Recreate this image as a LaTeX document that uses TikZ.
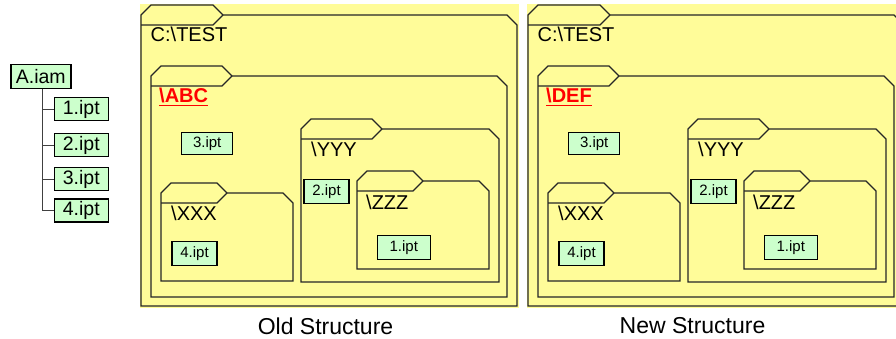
\documentclass[tikz,border=0pt]{standalone}
\usepackage{fontspec}
\setmainfont{Liberation Sans}
\definecolor{fyellow}{RGB}{255,252,153}
\definecolor{fgreen}{RGB}{204,255,204}
\newcommand{\fld}[5]{%
  \filldraw[foldline,fill=fyellow] (#1,#2+10) -- (#1+10,#2) -- (#3,#2) -- (#3+10,#2+10) -- (#4-10,#2+10) -- (#4,#2+20) -- (#4,#5) -- (#1,#5) -- cycle;
  \draw[foldline] (#1,#2+20) -- (#3,#2+20) -- (#3+10,#2+10);
}
\tikzset{
  foldline/.style={draw=black!85,line width=1.2pt,line join=miter},
  flabel/.style={anchor=base west,inner sep=0pt,font=\fontsize{20}{24}\selectfont},
  redlabel/.style={anchor=base west,inner sep=0pt,text=red,font=\fontsize{20}{24}\selectfont\bfseries},
  smallbox/.style={draw=black,line width=1.4pt,fill=fgreen,inner sep=0pt,minimum width=48pt,minimum height=24pt,font=\fontsize{15}{18}\selectfont},
  treebox/.style={draw=black,line width=1.4pt,fill=fgreen,inner sep=0pt,minimum width=54pt,minimum height=23pt,font=\fontsize{19.5}{22}\selectfont},
  treeline/.style={draw=black!75,line width=1pt},
  caption/.style={inner sep=0pt,font=\fontsize{23}{26}\selectfont}
}
\begin{document}
\begin{tikzpicture}[x=1pt,y=-1pt]
\clip (0,0) rectangle (896,339);
\fill[white] (0,0) rectangle (896,339);
% tree
\node[treebox,minimum width=60pt,minimum height=24pt] (aiam) at (40.8,76.3) {A.iam};
\node[treebox] (t1) at (81.3,109.3) {1.ipt};
\node[treebox] (t2) at (81.3,145.2) {2.ipt};
\node[treebox] (t3) at (81.3,179.2) {3.ipt};
\node[treebox] (t4) at (81.3,210.3) {4.ipt};
\draw[treeline] ([xshift=1.5pt]aiam.south) |- (t4.west);
\draw[treeline] ([xshift=1.5pt]aiam.south) |- (t1.west);
\draw[treeline] ([xshift=1.5pt]aiam.south) |- (t2.west);
\draw[treeline] ([xshift=1.5pt]aiam.south) |- (t3.west);
% panels
\foreach \dx/\name in {0/ABC, 387/DEF}{
\begin{scope}[xshift=\dx pt]
\fill[fyellow] (140,4) rectangle (519,308);
\fld{141}{5}{213}{517}{306}
\fld{151}{66}{222}{507}{297}
\fld{161}{183}{217}{293}{281}
\fld{301}{119}{372}{499}{282}
\fld{357}{171}{413}{489}{269}
\node[flabel] (test\name) at (150.5,41.7) {C:\textbackslash TEST};
\node[redlabel] (lab\name) at (159,103) {\underline{\textbackslash \name}};
\node[flabel] (yyy\name) at (311,156.7) {\textbackslash YYY};
\node[flabel] (zzz\name) at (366,209.3) {\textbackslash ZZZ};
\node[flabel] (xxx\name) at (171,220) {\textbackslash XXX};
\node[smallbox,minimum width=51pt,minimum height=22pt] (b3\name) at (207.2,143.5) {3.ipt};
\node[smallbox,minimum width=45pt] (b4\name) at (194.5,253.3) {4.ipt};
\node[smallbox,minimum width=45pt] (b2\name) at (326.5,191.3) {2.ipt};
\node[smallbox,minimum width=53pt] (b1\name) at (403.8,247.7) {1.ipt};
\end{scope}
}
\node[caption] (capOld) at (325.5,326) {Old Structure};
\node[caption] (capNew) at (692.5,326) {New Structure};
\end{tikzpicture}
\end{document}
